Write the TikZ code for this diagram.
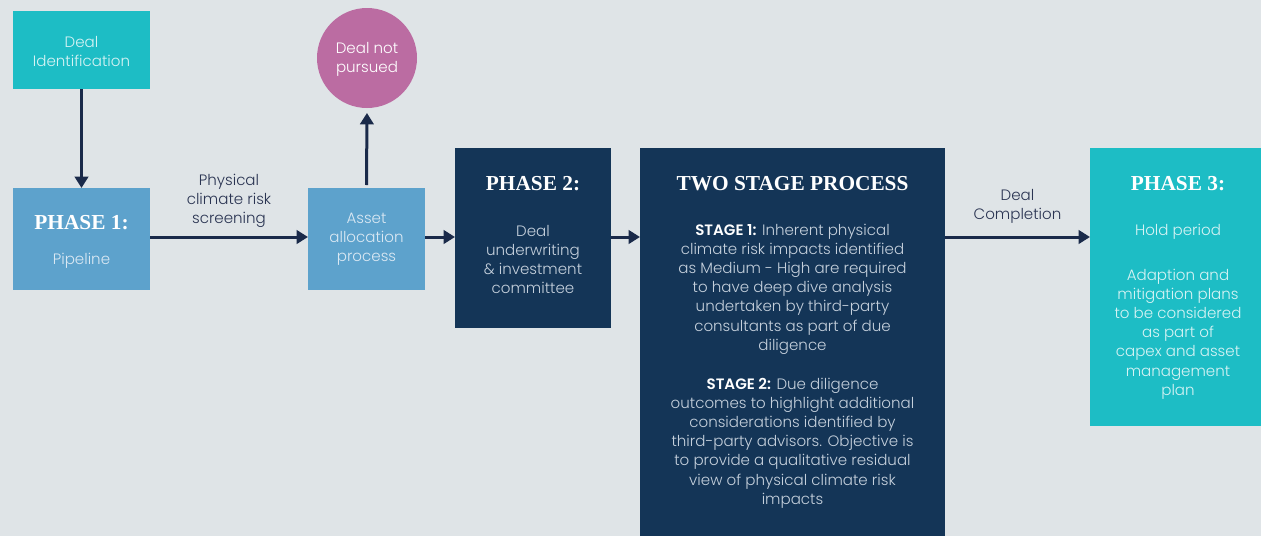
\documentclass[tikz,border=0pt]{standalone}
\usepackage{fontspec}
\setmainfont{Poppins}[UprightFont=* Light, BoldFont=* SemiBold]
\newfontfamily\titlefont{Liberation Serif}
\usetikzlibrary{arrows.meta}

\definecolor{bgc}{HTML}{DFE4E7}
\definecolor{tealc}{HTML}{1DBDC5}
\definecolor{bluec}{HTML}{5DA2CC}
\definecolor{navyc}{HTML}{143557}
\definecolor{plumc}{HTML}{BB6CA2}
\definecolor{arrowc}{HTML}{1A2A4A}
\definecolor{labelc}{HTML}{2A3452}
\definecolor{onteal}{HTML}{D6F3F4}
\definecolor{onblue}{HTML}{DAE8F3}
\definecolor{onnavy}{HTML}{C5D0DC}

% multi-line texts are placed by the baseline of their last line
\tikzset{
  box/.style={draw=none, inner sep=0pt, outer sep=0pt},
  body/.style={font=\fontsize{11.3}{14.4}\selectfont, align=center, anchor=base, inner sep=0pt},
  ttl/.style={font=\titlefont\bfseries\fontsize{16}{18}\selectfont, text=white, anchor=base, inner sep=0pt},
  flow/.style={draw=arrowc, line width=2.25pt, -{Triangle[width=10pt,length=8.5pt]}},
}

\begin{document}
\begin{tikzpicture}[x=0.75pt,y=-0.75pt]
  % canvas
  \fill[bgc] (0,0) rectangle (1261,536);
  \useasboundingbox (0,0) rectangle (1261,536);

  % boxes
  \node[box, fill=tealc, minimum width=102.75pt, minimum height=58.5pt] (di) at (81.5,50) {};
  \node[box, fill=bluec, minimum width=102.75pt, minimum height=76.5pt] (p1) at (81.5,239) {};
  \node[box, fill=bluec, minimum width=87.75pt, minimum height=76.5pt] (asset) at (366.5,239) {};
  \node[box, circle, fill=plumc, minimum size=75pt] (dnp) at (367,58) {};
  \node[box, fill=navyc, minimum width=117pt, minimum height=135pt] (p2) at (533,238) {};
  \node[box, fill=navyc, minimum width=228.75pt, minimum height=291pt] (ts) at (792.5,342) {};
  \node[box, fill=tealc, minimum width=128.25pt, minimum height=208.5pt] (p3) at (1175.5,287) {};

  % box texts
  \node[body, text=onteal] (dit) at (81.5,66.2) {Deal\\Identification};
  \node[ttl] (p1t) at (81.5,229.5) {PHASE 1:};
  \node[body, text=onblue] (p1b) at (81.5,264) {Pipeline};
  \node[body, text=onblue] (assett) at (366.5,261.4) {Asset\\allocation\\process};
  \node[body, text=white] (dnpt) at (367,72.2) {Deal not\\pursued};

  \node[ttl] (p2t) at (533,190.5) {PHASE 2:};
  \node[body, text=onnavy] (p2b) at (533,293.6) {Deal\\underwriting\\\& investment\\committee};

  \node[ttl] (tst) at (792.5,190.5) {TWO STAGE PROCESS};
  \node[body, text=onnavy] (ts1) at (792.5,350.2)
    {{\color{white}\bfseries STAGE 1:} Inherent physical\\climate risk impacts identified\\as Medium - High are required\\to have deep dive analysis\\undertaken by third-party\\consultants as part of due\\diligence};
  \node[body, text=onnavy] (ts2) at (792.5,504.2)
    {{\color{white}\bfseries STAGE 2:} Due diligence\\outcomes to highlight additional\\considerations identified by\\third-party advisors. Objective is\\to provide a qualitative residual\\view of physical climate risk\\impacts};

  \node[ttl] (p3t) at (1178,190.5) {PHASE 3:};
  \node[body, text=onteal] (p3b) at (1178,235) {Hold period};
  \node[body, text=onteal] (p3c) at (1178,395.2)
    {Adaption and\\mitigation plans\\to be considered\\as part of\\capex and asset\\management\\plan};

  % connector labels
  \node[body, text=labelc] (lscreen) at (229,223.4) {Physical\\climate risk\\screening};
  \node[body, text=labelc] (lcomp) at (1017.5,219.2) {Deal\\Completion};

  % connectors
  \draw[flow] (di) -- (p1);
  \draw[flow, shorten <=2.25pt, shorten >=3.75pt] (asset.north) -- (dnp.south);
  \draw[flow] ([yshift=1.5pt]p1.east) -- ([yshift=1.5pt]p1.east -| asset.west);
  \draw[flow] ([yshift=1.5pt]asset.east) -- ([yshift=1.5pt]asset.east -| p2.west);
  \draw[flow] ([yshift=0.75pt]p2.east) -- ([yshift=0.75pt]p2.east -| ts.west);
  \draw[flow] ([yshift=0.75pt]p2.east -| ts.east) -- ([yshift=0.75pt]p2.east -| p3.west);
\end{tikzpicture}
\end{document}
